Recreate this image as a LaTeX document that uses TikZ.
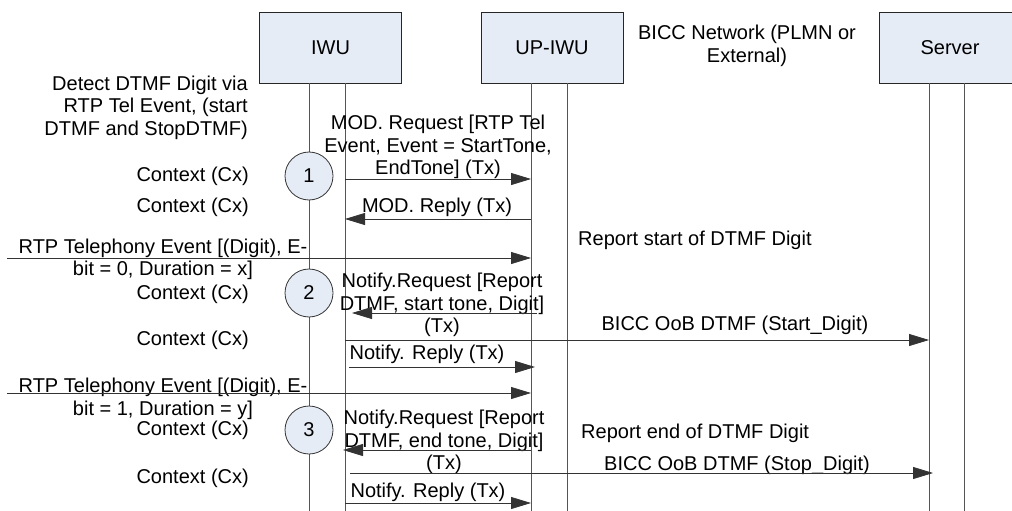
\documentclass[tikz,border=0pt]{standalone}
\usepackage{fontspec}
\setmainfont{Liberation Sans}
\usetikzlibrary{arrows.meta}
\definecolor{boxfill}{RGB}{230,236,246}
\definecolor{linegray}{RGB}{85,85,85}
\begin{document}
\begin{tikzpicture}[x=1pt,y=-1pt,
  font=\fontsize{20}{22.5}\selectfont,
  box/.style={draw=black!85, fill=boxfill, minimum width=142pt, minimum height=71pt, inner sep=0pt, line width=0.8pt},
  life/.style={draw=linegray, line width=0.8pt},
  msg/.style={draw=black!80, line width=0.8pt, -{Triangle[length=20pt,width=12pt]}},
  lbl/.style={inner sep=0pt, align=center},
  ctx/.style={inner sep=0pt, anchor=east},
  stepcirc/.style={circle, draw=black!80, fill=boxfill, minimum size=48pt, inner sep=0pt, line width=0.8pt}]
\useasboundingbox (0,0) rectangle (1012,511);

% boxes
\node[box] (iwu) at (330.5,47.5) {IWU};
\node[box] (upiwu) at (552,47.5) {UP-IWU};
\node[box] (server) at (950,47.5) {Server};
\node[lbl] (bicc) at (747,46) {BICC Network (PLMN or\\External)};

% lifelines
\coordinate (iwuL) at ([xshift=-21.5pt]iwu.south);
\coordinate (iwuR) at ([xshift=14.5pt]iwu.south);
\coordinate (upL) at ([xshift=-21pt]upiwu.south);
\coordinate (upR) at ([xshift=15pt]upiwu.south);
\coordinate (srvL) at ([xshift=-21pt]server.south);
\coordinate (srvR) at ([xshift=14pt]server.south);
\coordinate (left1) at (7,258);
\coordinate (left2) at (7,393);
\foreach \c in {iwuL,iwuR,upL,upR,srvL,srvR}
  \draw[life] (\c) -- (\c |- 0,511);

% step circles
\node[stepcirc] (c1) at (iwuL |- 0,176) {1};
\node[stepcirc] (c2) at (iwuL |- 0,293) {2};
\node[stepcirc] (c3) at (iwuL |- 0,430) {3};

% left texts
\node[inner sep=0pt, anchor=east, align=right] (detect) at (248,107.5) {Detect DTMF Digit via\\RTP Tel Event, (start\\DTMF and StopDTMF)};
\node[ctx] (cx1) at (249,176) {Context (Cx)};
\node[ctx] (cx2) at (249,207) {Context (Cx)};
\node[ctx] (cx3) at (249,294) {Context (Cx)};
\node[ctx] (cx4) at (249,340) {Context (Cx)};
\node[ctx] (cx5) at (249,430) {Context (Cx)};
\node[ctx] (cx6) at (249,478) {Context (Cx)};
\node[lbl] (rtp1) at (163,259.5) {RTP Telephony Event [(Digit), E-\\bit = 0, Duration = x]};
\node[lbl] (rtp2) at (163,399) {RTP Telephony Event [(Digit), E-\\bit = 1, Duration = y]};

% message labels
\node[lbl] (modreq) at (438,147) {MOD. Request [RTP Tel\\Event, Event = StartTone,\\EndTone] (Tx)};
\node[lbl] (modrep) at (437,207) {MOD. Reply (Tx)};
\node[lbl] (nreq1) at (442,305) {Notify.Request [Report\\DTMF, start tone, Digit]\\(Tx)};
\node[lbl] (nrep1) at (427,354) {Notify. Reply (Tx)};
\node[lbl] (nreq2) at (444,442) {Notify.Request [Report\\DTMF, end tone, Digit]\\(Tx)};
\node[lbl] (nrep2) at (428,492) {Notify. Reply (Tx)};
\node[lbl] (bstart) at (735,325) {BICC OoB DTMF (Start\_Digit)};
\node[lbl] (bstop) at (737,465) {BICC OoB DTMF (Stop\_Digit)};
\node[inner sep=0pt, anchor=west] (rstart) at (578,240) {Report start of DTMF Digit};
\node[inner sep=0pt, anchor=west] (rend) at (581,433) {Report end of DTMF Digit};

% messages
\draw[msg] (iwuR |- 0,179) -- (upL |- 0,179);
\draw[msg] (upL |- 0,219) -- (iwuR |- 0,219);
\draw[msg] (left1) -- (upL |- left1);
\draw[msg] ([xshift=6pt]upL |- 0,313) -- ([xshift=7pt]iwuR |- 0,313);
\draw[msg] (iwuR |- 0,340) -- (srvL |- 0,340);
\draw[msg] ([xshift=4pt]iwuR |- 0,367) -- ([xshift=4pt]upL |- 0,367);
\draw[msg] (left2) -- (upL |- left2);
\draw[msg] (upL |- 0,450) -- ([xshift=-2pt]iwuR |- 0,450);
\draw[msg] ([xshift=5pt]iwuR |- 0,473) -- ([xshift=4pt]srvL |- 0,473);
\draw[msg] (iwuR |- 0,503) -- (upL |- 0,503);
\end{tikzpicture}
\end{document}
